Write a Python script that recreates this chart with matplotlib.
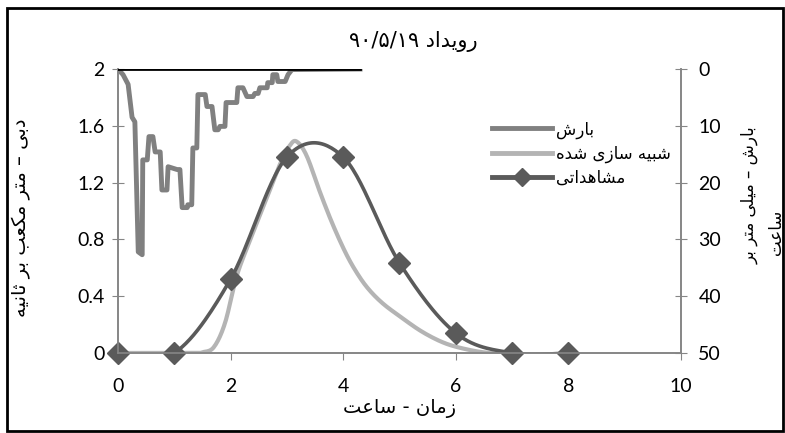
import numpy as np
import matplotlib
matplotlib.use("Agg")
import matplotlib.pyplot as plt
from matplotlib.lines import Line2D
from matplotlib.patches import Rectangle

# rainfall hyetograph (time in hours, mm/h)
rain_t = [0, 0.09, 0.18, 0.25, 0.30, 0.36, 0.43, 0.44, 0.52, 0.55, 0.62, 0.66, 0.75,
          0.78, 0.87, 0.89, 1.05, 1.10, 1.14, 1.23, 1.24, 1.31, 1.33, 1.40, 1.42, 1.55,
          1.58, 1.67, 1.72, 1.78, 1.81, 1.90, 1.92, 2.11, 2.13, 2.22, 2.29, 2.40, 2.43,
          2.49, 2.52, 2.65, 2.66, 2.74, 2.75, 2.82, 2.84, 2.97, 3.02, 3.09, 4.3]
rain_mm = [0, 1.0, 2.7, 8.5, 9.3, 32.2, 32.7, 16.0, 16.0, 11.9, 11.9, 14.6, 14.6,
           21.3, 21.3, 17.2, 17.7, 17.7, 24.4, 24.4, 23.9, 23.9, 13.9, 13.9, 4.5, 4.5,
           6.6, 6.6, 10.7, 10.7, 10.1, 10.1, 5.9, 5.9, 3.3, 3.3, 4.85, 4.85, 4.3,
           4.3, 3.3, 3.3, 2.4, 2.4, 1.0, 1.0, 2.2, 2.2, 1.0, 0.1, 0]

# simulated discharge (m3/s)
sim_t = [0, 1.0, 1.4, 1.5, 1.7, 1.9, 2.1, 2.3, 2.5, 2.7, 2.9, 3.05, 3.17, 3.35, 3.6,
         3.82, 4.05, 4.25, 4.45, 4.7, 5.0, 5.4, 5.8, 6.2, 6.6, 7.0]
sim_q = [0, 0, 0, 0.005, 0.04, 0.21, 0.53, 0.75, 0.95, 1.15, 1.35, 1.46, 1.49, 1.39, 1.12,
         0.90, 0.70, 0.56, 0.45, 0.35, 0.26, 0.15, 0.07, 0.025, 0, 0]

# observed discharge (m3/s)
obs_t = [0, 1, 2, 3, 4, 5, 6, 7, 8]
obs_q = [0, 0, 0.52, 1.38, 1.38, 0.634, 0.14, 0, 0]

x_ticks = [0, 2, 4, 6, 8, 10]
q_ticks = [0, 0.4, 0.8, 1.2, 1.6, 2]
q_tick_labels = ["0", "0.4", "0.8", "1.2", "1.6", "2"]
p_ticks = [0, 10, 20, 30, 40, 50]

title_txt = "رویداد"
title_date = "۹۰/۵/۱۹"
x_label = "زمان - ساعت"
y_label = "دبی – متر مکعب بر ثانیه"
y2_label_1 = "بارش – میلی متر بر"
y2_label_2 = "ساعت"
legend_labels = ["بارش", "شبیه سازی شده", "مشاهداتی"]

# persian letters: isolated, final, initial, medial (None = joins only to the right)
FORMS = {
    "\u0627": ("\uFE8D", "\uFE8E", None, None),
    "\u0628": ("\uFE8F", "\uFE90", "\uFE91", "\uFE92"),
    "\u062A": ("\uFE95", "\uFE96", "\uFE97", "\uFE98"),
    "\u062B": ("\uFE99", "\uFE9A", "\uFE9B", "\uFE9C"),
    "\u062F": ("\uFEA9", "\uFEAA", None, None),
    "\u0631": ("\uFEAD", "\uFEAE", None, None),
    "\u0632": ("\uFEAF", "\uFEB0", None, None),
    "\u0633": ("\uFEB1", "\uFEB2", "\uFEB3", "\uFEB4"),
    "\u0634": ("\uFEB5", "\uFEB6", "\uFEB7", "\uFEB8"),
    "\u0639": ("\uFEC9", "\uFECA", "\uFECB", "\uFECC"),
    "\u0644": ("\uFEDD", "\uFEDE", "\uFEDF", "\uFEE0"),
    "\u0645": ("\uFEE1", "\uFEE2", "\uFEE3", "\uFEE4"),
    "\u0646": ("\uFEE5", "\uFEE6", "\uFEE7", "\uFEE8"),
    "\u0647": ("\uFEE9", "\uFEEA", "\uFEEB", "\uFEEC"),
    "\u0648": ("\uFEED", "\uFEEE", None, None),
    "\u06CC": ("\uFBFC", "\uFBFD", "\uFBFE", "\uFBFF"),
    "\u06A9": ("\uFB8E", "\uFB8F", "\uFB90", "\uFB91"),
}


def rtl(text):
    # matplotlib has no arabic shaping, so pick glyph forms and reverse by hand
    out = []
    for i, ch in enumerate(text):
        if ch not in FORMS:
            out.append(ch)
            continue
        prev = text[i - 1] if i > 0 else None
        nxt = text[i + 1] if i + 1 < len(text) else None
        joins_prev = prev in FORMS and FORMS[prev][2] is not None
        joins_next = nxt in FORMS and FORMS[ch][2] is not None
        iso, fin, ini, med = FORMS[ch]
        if joins_prev and joins_next:
            out.append(med)
        elif joins_prev:
            out.append(fin)
        elif joins_next:
            out.append(ini)
        else:
            out.append(iso)
    return "".join(out)[::-1]


def smooth(x, y, n=30):
    # excel style smoothed line (catmull-rom through the points)
    x = np.asarray(x, float)
    y = np.asarray(y, float)
    px = np.concatenate([[x[0]], x, [x[-1]]])
    py = np.concatenate([[y[0]], y, [y[-1]]])
    xs, ys = [], []
    s = np.linspace(0, 1, n)
    for i in range(1, len(px) - 2):
        for p, acc in ((px, xs), (py, ys)):
            p0, p1, p2, p3 = p[i - 1], p[i], p[i + 1], p[i + 2]
            m1 = (p2 - p0) / 2
            m2 = (p3 - p1) / 2
            h00 = 2 * s**3 - 3 * s**2 + 1
            h10 = s**3 - 2 * s**2 + s
            h01 = -2 * s**3 + 3 * s**2
            h11 = s**3 - s**2
            acc.extend(h00 * p1 + h10 * m1 + h01 * p2 + h11 * m2)
    return np.array(xs), np.array(ys)


plt.rcParams["font.family"] = ["DejaVu Sans"]
tick_font = ["Lato", "DejaVu Sans"]
axis_grey = "#868686"
c_rain = "#808080"
c_sim = "#b4b4b4"
c_obs = "#5a5a5a"

fig = plt.figure(figsize=(7.85, 4.33), dpi=100)
ax = fig.add_axes([0.1503, 0.1848, 0.7172, 0.6558])
ax2 = ax.twinx()

sx, sy = smooth(sim_t, sim_q, 12)
ax.plot(sx, sy, color=c_sim, lw=3, solid_capstyle="round", zorder=2)
ox, oy = smooth(obs_t, obs_q, 30)
ax.plot(ox, oy, color=c_obs, lw=2.6, zorder=3)
ax.plot(obs_t, obs_q, linestyle="none", marker="D", markersize=11.5,
        color=c_obs, zorder=4, clip_on=False)

ax2.plot(rain_t, rain_mm, color=c_rain, lw=3.5, zorder=2)
ax2.plot([rain_t[0], rain_t[-1]], [0, 0], color="black", lw=2, zorder=3)

ax.set_xlim(0, 10)
ax.set_ylim(0, 2)
ax2.set_ylim(50, 0)
ax.set_xticks(x_ticks)
ax.set_yticks(q_ticks)
ax.set_yticklabels(q_tick_labels)
ax2.set_yticks(p_ticks)

for a in (ax, ax2):
    a.spines["top"].set_visible(False)
    for side in ("left", "right", "bottom"):
        a.spines[side].set_color(axis_grey)
        a.spines[side].set_linewidth(1.2)
ax.tick_params(axis="y", direction="inout", length=9, color=axis_grey,
               labelsize=14, pad=5)
ax.tick_params(axis="x", direction="out", length=5, color=axis_grey,
               labelsize=14, pad=13)
ax2.tick_params(axis="y", direction="inout", length=9, color=axis_grey,
                labelsize=14, pad=8)
for lab in ax.get_xticklabels() + ax.get_yticklabels() + ax2.get_yticklabels():
    lab.set_family(tick_font)

ax.set_xlabel(rtl(x_label), fontsize=14, labelpad=3)
fig.text(413 / 785, 1 - 42 / 433, title_date + " " + rtl(title_txt),
         ha="center", va="center", fontsize=15)
fig.text(21 / 785, 1 - 218 / 433, rtl(y_label), rotation=90,
         ha="center", va="center", fontsize=14)
fig.text(750 / 785, 1 - 195 / 433, rtl(y2_label_1), rotation=90,
         ha="center", va="center", fontsize=12)
fig.text(776 / 785, 1 - 232 / 433, rtl(y2_label_2), rotation=90,
         ha="center", va="center", fontsize=12)

handles = [
    Line2D([], [], color=c_rain, lw=3.5),
    Line2D([], [], color=c_sim, lw=3.5),
    Line2D([], [], color=c_obs, lw=3.5, marker="D", markersize=9),
]
ax2.legend(handles, [rtl(t) for t in legend_labels], loc="upper left",
           bbox_to_anchor=(484 / 785, 1 - 112 / 433), bbox_transform=fig.transFigure,
           frameon=False, fontsize=12, handlelength=3.6, labelspacing=0.35,
           handletextpad=0.2, borderpad=0)

fig.patches.append(Rectangle((7 / 785, 2 / 433), 776 / 785, 423 / 433,
                             transform=fig.transFigure, fill=False,
                             edgecolor="black", lw=2))

fig.savefig("out.png", dpi=100)
